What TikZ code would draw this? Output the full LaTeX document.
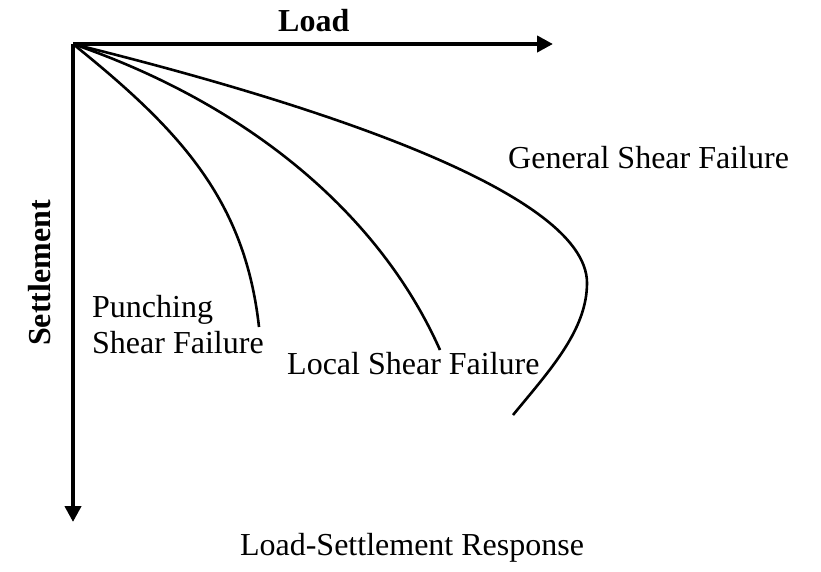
\documentclass[tikz,border=0pt]{standalone}
\usepackage{fontspec}
\setmainfont{Liberation Serif}
\usetikzlibrary{arrows.meta}
\tikzset{
  axis/.style={line width=4.5pt,-{Triangle[length=16pt,width=16pt]}},
  curve/.style={line width=2.6pt},
  lbl/.style={font=\fontsize{32}{37}\selectfont, inner sep=0pt},
  blbl/.style={font=\fontsize{32}{37}\selectfont\bfseries, inner sep=0pt}
}
\begin{document}
\begin{tikzpicture}[x=1pt,y=-1pt]
\useasboundingbox (0,0) rectangle (821,571);
\coordinate (O) at (73,44);
\coordinate (Lx) at (553,44);
\coordinate (Sy) at (73,522);
\draw[axis] (O) -- (Lx);
\draw[axis] (O) -- (Sy);
% curves
\coordinate (Pend) at (259,327);
\coordinate (Lend) at (440,350);
\coordinate (Gmid) at (587,283);
\coordinate (Gend) at (513,415);
\draw[curve] (O) .. controls (180,130) and (245,200) .. (Pend);
\draw[curve] (O) .. controls (250,105) and (380,215) .. (Lend);
\draw[curve] (O) .. controls (300,100) and (587,190) .. (Gmid)
  .. controls (587,330) and (550,370) .. (Gend);
% labels
\node[blbl, anchor=base west] (load) at (278,31) {Load};
\node[blbl, rotate=90, anchor=base] (settle) at (50,273) {Settlement};
\node[lbl, anchor=base west] (gen) at (508,168) {General Shear Failure};
\node[lbl, anchor=base west] (punch1) at (92,317) {Punching};
\node[lbl, anchor=base west] (punch2) at (92,353) {Shear Failure};
\node[lbl, anchor=base west] (loc) at (287,374) {Local Shear Failure};
\node[lbl, anchor=base] (title) at (412,555) {Load-Settlement Response};
\end{tikzpicture}
\end{document}
